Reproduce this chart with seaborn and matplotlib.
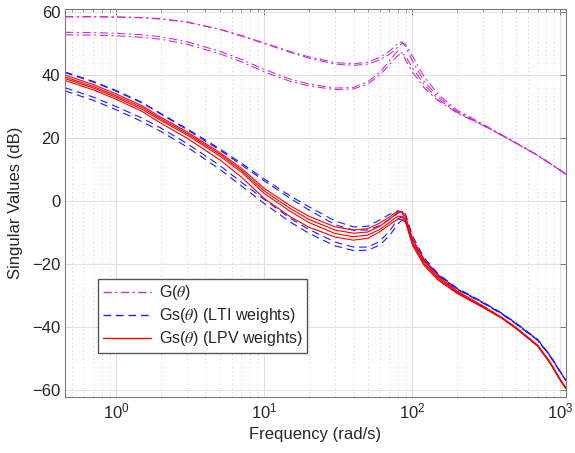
import matplotlib
matplotlib.use("Agg")
import matplotlib.pyplot as plt
from matplotlib.lines import Line2D
from matplotlib.ticker import LogLocator, NullFormatter, FixedLocator
import numpy as np
import pandas as pd
import seaborn as sns

# frequency grid (rad/s) the curves were read at
freq = [0.45, 0.7, 1, 1.5, 2, 3, 5, 7, 10, 15, 20, 30, 40, 50, 60, 70, 75, 80, 85,
        90, 100, 120, 150, 200, 300, 400, 500, 700, 850, 1000, 1090]

# G(theta) singular values (dB)
g_a1 = [58.6, 58.6, 58.5, 58.3, 57.9, 56.9, 54.6, 52.6, 50.2, 47.5, 45.8, 44.0, 43.6, 44.1, 45.6, 47.6, 48.9, 50.1, 50.6,
        49.0, 44.5, 38.0, 33.0, 28.5, 24.2, 21.0, 18.5, 14.6, 12.0, 9.8, 8.5]
g_a2 = [58.5, 58.5, 58.4, 58.2, 57.8, 56.8, 54.5, 52.4, 50.0, 47.2, 45.4, 43.5, 43.1, 43.5, 44.8, 46.6, 47.8, 49.0, 50.1,
        49.8, 46.0, 39.5, 33.8, 28.9, 24.4, 21.1, 18.5, 14.6, 12.0, 9.8, 8.5]
g_b1 = [53.6, 53.5, 53.3, 52.8, 52.2, 50.6, 47.6, 45.0, 41.8, 38.7, 37.2, 35.9, 36.1, 37.9, 40.8, 44.5, 46.3, 47.8, 47.0,
        44.8, 41.0, 36.0, 31.8, 28.0, 24.0, 20.9, 18.4, 14.5, 11.9, 9.7, 8.4]
g_b2 = [52.8, 52.7, 52.5, 52.0, 51.4, 49.8, 46.8, 44.2, 41.0, 38.0, 36.6, 35.4, 35.6, 37.2, 40.0, 43.3, 45.0, 46.3, 46.9,
        46.0, 42.3, 37.0, 32.3, 28.2, 24.1, 20.9, 18.4, 14.5, 11.9, 9.7, 8.4]

# Gs(theta), LTI weights
lti_t1 = [41.0, 38.0, 35.1, 31.3, 27.8, 23.0, 16.6, 12.0, 7.0, 1.6, -1.8, -6.3, -8.2, -8.0, -6.0, -4.2, -3.5, -3.1, -3.4,
          -5.5, -12.0, -18.5, -23.5, -27.8, -32.2, -35.6, -38.8, -44.0, -49.0, -54.3, -56.9]
lti_t2 = [40.8, 37.8, 34.9, 31.1, 27.6, 22.7, 16.2, 11.5, 6.4, 0.8, -2.8, -7.5, -9.2, -9.2, -7.8, -5.8, -4.8, -3.8, -3.1,
          -4.2, -11.0, -18.0, -23.2, -27.6, -32.1, -35.5, -38.7, -43.9, -48.9, -54.2, -56.8]
lti_l1 = [36.0, 33.0, 30.0, 26.3, 23.2, 18.3, 11.3, 6.0, 0.5, -5.5, -9.0, -13.0, -14.6, -14.6, -12.8, -9.5, -7.5, -5.6, -5.0,
          -6.3, -12.5, -19.0, -23.8, -28.0, -32.4, -35.8, -39.0, -44.2, -49.2, -54.5, -57.1]
lti_l2 = [35.0, 32.0, 29.0, 25.2, 22.1, 17.2, 10.1, 4.8, -0.8, -6.7, -10.2, -14.2, -15.7, -15.6, -14.0, -11.0, -9.0, -7.2, -6.0,
          -6.5, -12.0, -18.6, -23.5, -27.9, -32.3, -35.7, -38.9, -44.1, -49.1, -54.4, -57.0]

# Gs(theta), LPV weights
lpv_1 = [40.0, 37.0, 34.0, 30.2, 26.6, 22.0, 15.4, 10.4, 4.0, -1.5, -4.8, -8.2, -9.2, -8.7, -7.0, -5.0, -4.0, -3.2, -3.6,
         -6.2, -13.0, -19.5, -24.5, -28.8, -33.5, -37.0, -40.2, -45.8, -51.2, -56.8, -59.4]
lpv_2 = [39.4, 36.4, 33.4, 29.7, 26.1, 21.5, 14.9, 9.8, 3.2, -2.4, -5.8, -9.2, -10.2, -9.8, -8.0, -5.8, -4.6, -3.6, -3.3,
         -5.0, -12.0, -18.8, -24.0, -28.5, -33.3, -36.9, -40.1, -45.7, -51.1, -56.7, -59.3]
lpv_3 = [38.9, 35.9, 32.9, 29.1, 25.6, 21.0, 14.3, 9.2, 2.4, -3.3, -6.8, -10.3, -11.3, -10.8, -9.0, -6.8, -5.6, -4.8, -4.9,
         -6.5, -14.0, -20.5, -25.2, -29.3, -33.8, -37.2, -40.4, -46.0, -51.4, -57.0, -59.6]
lpv_4 = [38.3, 35.3, 32.3, 28.4, 24.7, 20.0, 13.1, 7.6, 0.8, -5.0, -8.3, -11.4, -12.4, -11.8, -9.8, -7.5, -6.5, -5.8, -5.8,
         -6.8, -13.5, -20.0, -24.9, -29.1, -33.7, -37.1, -40.4, -46.0, -51.4, -57.0, -59.6]

labels = [r"G($\theta$)", r"Gs($\theta$) (LTI weights)", r"Gs($\theta$) (LPV weights)"]
groups = {
    labels[0]: [g_a1, g_a2, g_b1, g_b2],
    labels[1]: [lti_t1, lti_t2, lti_l1, lti_l2],
    labels[2]: [lpv_1, lpv_2, lpv_3, lpv_4],
}

rows = []
for name, curves in groups.items():
    for i, vals in enumerate(curves):
        for f, v in zip(freq, vals):
            rows.append({"freq": f, "sv": v, "group": name, "curve": f"{name}-{i}"})
df = pd.DataFrame(rows)

sns.set_theme(style="white")
plt.rcParams["font.family"] = ["Liberation Sans", "DejaVu Sans"]
plt.rcParams["mathtext.fontset"] = "stix"
plt.rcParams["lines.scale_dashes"] = False

MAG, BLUE, RED = "#cc33cc", "#1a1aff", "#ff0000"
palette = {labels[0]: MAG, labels[1]: BLUE, labels[2]: RED}
dashes = {labels[0]: (6, 2.5, 1.5, 2.5), labels[1]: (5.5, 3.5), labels[2]: ""}
LW = 0.8

fig = plt.figure(figsize=(5.75, 4.53), dpi=100)
ax = fig.add_axes([65 / 575, 56 / 453, 501 / 575, 388 / 453])
sns.lineplot(data=df, x="freq", y="sv", hue="group", style="group", units="curve",
             estimator=None, sort=False, palette=palette, dashes=dashes,
             linewidth=LW, legend=False, ax=ax)

ax.set_xscale("log")
ax.set_xlim(0.45, 1090)
ax.set_ylim(-62.2, 61)
ax.yaxis.set_major_locator(FixedLocator([-60, -40, -20, 0, 20, 40, 60]))
ax.xaxis.set_major_locator(LogLocator(base=10))
ax.xaxis.set_minor_locator(LogLocator(base=10, subs=np.arange(2, 10)))
ax.xaxis.set_minor_formatter(NullFormatter())

ax.set_axisbelow(True)
ax.grid(True, which="major", color="#dedede", lw=0.7)
ax.grid(True, which="minor", axis="x", color="#d0d0d0", lw=0.6, ls=(0, (1, 2)))

for s in ax.spines.values():
    s.set_color("#7a7a7a")
    s.set_linewidth(0.8)
ax.tick_params(which="both", direction="in", top=True, right=True, color="#7a7a7a",
               labelcolor="#262626", labelsize=12)
ax.tick_params(which="major", length=4, width=0.7)
ax.tick_params(which="minor", length=2.5, width=0.6)

ax.set_xlabel("Frequency (rad/s)", fontsize=12, color="#262626")
ax.set_ylabel("Singular Values (dB)", fontsize=12, color="#262626", labelpad=6)

handles = [Line2D([], [], color=MAG, lw=1.0, dashes=dashes[labels[0]]),
           Line2D([], [], color=BLUE, lw=1.0, dashes=dashes[labels[1]]),
           Line2D([], [], color=RED, lw=1.0, ls="-")]
ax.legend(handles, labels, loc="lower left", bbox_to_anchor=(0.066, 0.113), fancybox=False,
          edgecolor="#555555", framealpha=1, fontsize=11.5, handlelength=3, borderpad=0.3,
          labelspacing=0.25, handletextpad=0.5, borderaxespad=0)

fig.savefig("out.png", dpi=100)
